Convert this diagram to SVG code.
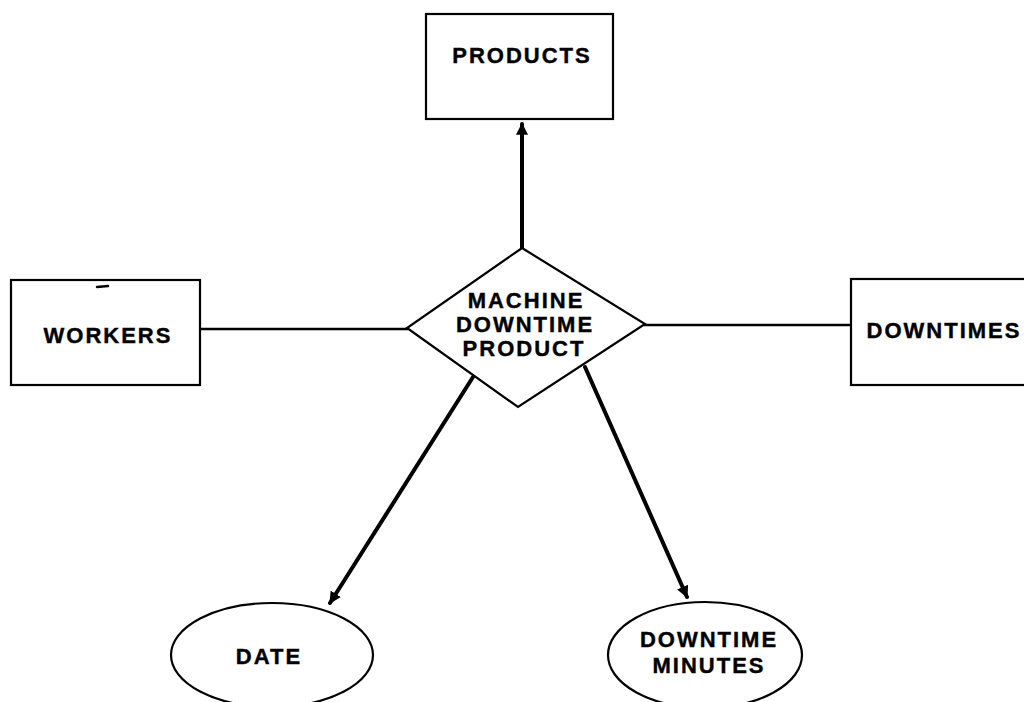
<svg xmlns="http://www.w3.org/2000/svg" width="1024" height="702" viewBox="0 0 1024 702">
  <style>
    .shape { fill: #fff; stroke: #000; stroke-width: 2.2; }
    .label { font-family: "Liberation Sans", Arial, sans-serif; font-weight: bold; font-size: 22px; letter-spacing: 2px; text-anchor: middle; fill: #000; stroke: #000; stroke-width: 0.4; }
    .link { fill: none; stroke: #000; stroke-width: 2.5; }
    .arrow { fill: none; stroke: #000; stroke-width: 4; stroke-linecap: round; }
  </style>
  <defs>
    <marker id="head" viewBox="0 0 10 10" refX="9" refY="5" markerWidth="3" markerHeight="3" orient="auto" markerUnits="strokeWidth">
      <path d="M0,0 L10,5 L0,10 Z" fill="#000"/>
    </marker>
  </defs>
  <rect width="1024" height="702" fill="#fff"/>

  <g id="connectors">
    <line class="link" x1="200" y1="329" x2="408" y2="329"/>
    <line class="link" x1="644" y1="325" x2="851" y2="325"/>
    <line class="arrow" x1="522" y1="248" x2="522" y2="124" marker-end="url(#head)"/>
    <line class="arrow" x1="473" y1="377" x2="330" y2="603" marker-end="url(#head)"/>
    <line class="arrow" x1="585" y1="367" x2="687" y2="597" marker-end="url(#head)"/>
  </g>

  <g id="products">
    <rect class="shape" x="426" y="14" width="187" height="105"/>
    <text class="label" x="522" y="63">PRODUCTS</text>
  </g>

  <g id="workers">
    <rect class="shape" x="11" y="280" width="189" height="105"/>
    <line x1="97" y1="287" x2="108" y2="286" stroke="#000" stroke-width="2.5" stroke-linecap="round"/>
    <text class="label" x="108" y="343">WORKERS</text>
  </g>

  <g id="downtimes">
    <rect class="shape" x="851" y="279" width="190" height="106"/>
    <text class="label" x="944" y="338">DOWNTIMES</text>
  </g>

  <g id="machine-downtime-product">
    <polygon class="shape" points="522,248 645,324 518,407 407,328"/>
    <text class="label" x="526" y="308">MACHINE</text>
    <text class="label" x="525" y="332">DOWNTIME</text>
    <text class="label" x="524" y="356">PRODUCT</text>
  </g>

  <g id="date">
    <ellipse class="shape" cx="272" cy="655" rx="101" ry="52"/>
    <text class="label" x="269" y="664" letter-spacing="0.5">DATE</text>
  </g>

  <g id="downtime-minutes">
    <ellipse class="shape" cx="705" cy="655" rx="97" ry="53"/>
    <text class="label" x="709" y="647">DOWNTIME</text>
    <text class="label" x="709" y="673">MINUTES</text>
  </g>
</svg>
